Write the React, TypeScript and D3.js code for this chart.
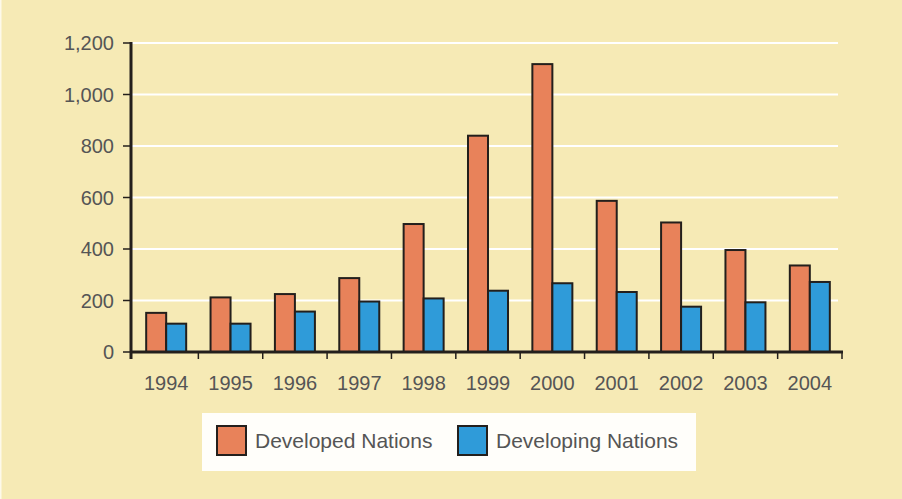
import React from "react";
import * as d3 from "d3";

const years = ["1994","1995","1996","1997","1998","1999","2000","2001","2002","2003","2004"];
const developed = [152, 212, 225, 287, 497, 840, 1118, 587, 503, 396, 336];
const developing = [110, 110, 157, 196, 208, 238, 267, 233, 176, 193, 272];
const yTicks = [0, 200, 400, 600, 800, 1000, 1200];
const seriesNames = ["Developed Nations", "Developing Nations"];
const seriesColors = ["#e8825a", "#2f9bd9"];

const W = 902, H = 499;
const axisX = 131;
const bandLeft = 134, bandRight = 842;
const y0 = 352, yTop = 43;

export default function App() {
  const x = d3.scaleBand<string>().domain(years).range([bandLeft, bandRight]).paddingInner(0).paddingOuter(0);
  const y = d3.scaleLinear().domain([0, 1200]).range([y0, yTop]);
  const barW = 20;
  const fmt = d3.format(",");
  const textColor = "#555";
  const font = "'Liberation Sans', Arial, Helvetica, sans-serif";
  const series = [developed, developing];

  return (
    <div style={{ position: "absolute", left: 0, top: 0, width: W, height: H }}>
      <svg width={W} height={H} style={{ display: "block" }} fontFamily={font}>
        <rect x={0} y={0} width={W} height={H} fill="#f6eab5" />
        <rect x={0} y={0} width={1.5} height={H} fill="#fdf9ea" />
        {/* gridlines */}
        {yTicks.filter(t => t > 0).map(t => (
          <line key={"g" + t} x1={axisX} x2={838} y1={y(t)} y2={y(t)} stroke="#ffffff" strokeWidth={2.2} />
        ))}
        {/* bars */}
        {years.map((yr, i) => {
          const cx = (x(yr) as number) + x.bandwidth() / 2;
          return series.map((s, k) => (
            <rect key={yr + k} x={cx - barW + k * barW} y={y(s[i])} width={barW} height={y(0) - y(s[i])}
              fill={seriesColors[k]} stroke="#231f1c" strokeWidth={2} />
          ));
        })}
        {/* y axis */}
        <line x1={axisX} x2={axisX} y1={yTop - 1} y2={359} stroke="#231f1c" strokeWidth={3} />
        {yTicks.map(t => (
          <g key={"t" + t}>
            <line x1={axisX - 8} x2={axisX} y1={y(t)} y2={y(t)} stroke="#231f1c" strokeWidth={1.5} />
            <text x={114} y={y(t)} dy="0.35em" textAnchor="end" fontSize={20} fill={textColor}>{fmt(t)}</text>
          </g>
        ))}
        {/* x axis */}
        <line x1={axisX} x2={bandRight + 1} y1={y0} y2={y0} stroke="#231f1c" strokeWidth={3} />
        {years.map(yr => {
          const right = (x(yr) as number) + x.bandwidth();
          const cx = (x(yr) as number) + x.bandwidth() / 2;
          return (
            <g key={"x" + yr}>
              <line x1={right} x2={right} y1={y0} y2={y0 + 7} stroke="#231f1c" strokeWidth={1.5} />
              <text x={cx} y={390} textAnchor="middle" fontSize={20} fill={textColor}>{yr}</text>
            </g>
          );
        })}
        {/* legend */}
        <rect x={202} y={413} width={494} height={58} fill="#fffefa" />
        {seriesNames.map((n, k) => {
          const sx = k === 0 ? 217 : 458;
          return (
            <g key={n}>
              <rect x={sx} y={426} width={29} height={29} fill={seriesColors[k]} stroke="#231f1c" strokeWidth={2} />
              <text x={sx + 38} y={448} fontSize={21} fill={textColor}>{n}</text>
            </g>
          );
        })}
      </svg>
    </div>
  );
}
